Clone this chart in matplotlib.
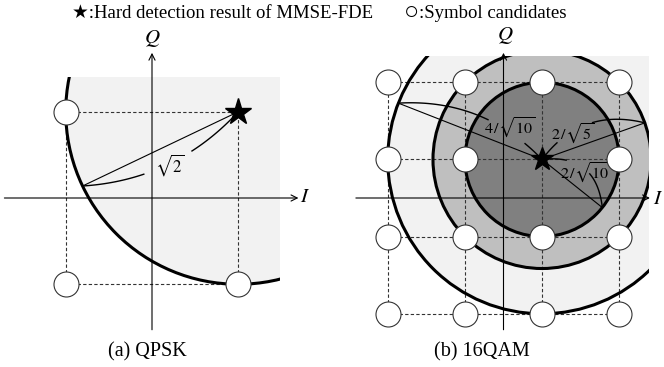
import numpy as np
import matplotlib
matplotlib.use("Agg")
import matplotlib.pyplot as plt
from matplotlib.patches import Circle, Rectangle

# constellation levels (I and Q share them)
qpsk_levels = [-0.707, 0.707]
qam16_levels = [-0.949, -0.316, 0.316, 0.949]

# hard detection result of MMSE-FDE
qpsk_star = (0.707, 0.707)
qam16_star = (0.316, 0.316)

# search radii, label and direction of the radius line (deg)
qpsk_radii = [1.414]
qpsk_radius_labels = [r"$\sqrt{2}$"]
qpsk_radius_angles = [205.5]

qam16_radii = [1.265, 0.894, 0.632]
qam16_radius_labels = [r"$4\,/\sqrt{10}$", r"$2\,/\sqrt{5}$", r"$2\,/\sqrt{10}$"]
qam16_radius_angles = [158.6, 19.6, -38.6]
qam16_fill = ["#f2f2f2", "#bfbfbf", "#808080"]

plt.rcParams["mathtext.fontset"] = "stix"
plt.rcParams["font.family"] = ["Liberation Serif", "DejaVu Sans"]

S = 122.0  # pixels per unit


def setup_axes(ax, ox, oy):
    """map the axes so that (0, 0) sits at pixel (ox, oy) of the panel"""
    ax.set_xlim(-ox / S, (332 - ox) / S)
    ax.set_ylim(-(367 - oy) / S, oy / S)
    ax.axis("off")


def draw_axes_lines(ax, q_label_pos, i_label_pos):
    arrow = dict(arrowstyle="->", lw=0.8, mutation_scale=11, shrinkA=0, shrinkB=0, color="black")
    ax.annotate("", xy=(1.20, 0), xytext=(-1.21, 0), arrowprops=arrow, zorder=3)
    ax.annotate("", xy=(0, 1.19), xytext=(0, -1.08), arrowprops=arrow, zorder=3)
    ax.text(*q_label_pos, r"$Q$", fontsize=15, ha="center", va="center")
    ax.text(*i_label_pos, r"$I$", fontsize=15, ha="center", va="center")


def draw_grid(ax, levels):
    lo, hi = min(levels), max(levels)
    for v in levels:
        ax.plot([lo, hi], [v, v], ls=(0, (3, 2)), lw=0.8, color="#333333", zorder=2)
        ax.plot([v, v], [lo, hi], ls=(0, (3, 2)), lw=0.8, color="#333333", zorder=2)


def draw_disks(ax, star, radii, colors, clip):
    for r, c in zip(radii, colors):
        fill = Circle(star, r, facecolor=c, edgecolor="none", zorder=1)
        ax.add_patch(fill)
        fill.set_clip_path(clip)
        ring = Circle(star, r, fill=False, edgecolor="black", lw=2.2, zorder=4)
        ax.add_patch(ring)
        ring.set_clip_path(clip)


def draw_brace(ax, star, r, angle, bulge, gap):
    """radius line plus a curved length marker with a gap for its label"""
    p0 = np.array(star)
    d = np.array([np.cos(np.radians(angle)), np.sin(np.radians(angle))])
    p2 = p0 + r * d
    ax.plot([p0[0], p2[0]], [p0[1], p2[1]], color="black", lw=0.8, zorder=5)
    normal = np.array([-d[1], d[0]])
    c = (p0 + p2) / 2 + bulge * r * normal
    for t0, t1 in [(0.0, gap[0]), (gap[1], 1.0)]:
        t = np.linspace(t0, t1, 40)[:, None]
        pts = (1 - t) ** 2 * p0 + 2 * t * (1 - t) * c + t ** 2 * p2
        ax.plot(pts[:, 0], pts[:, 1], color="black", lw=1.0, zorder=5)


def candidates(levels, star):
    xx, yy = np.meshgrid(levels, levels)
    pts = [(x, y) for x, y in zip(xx.ravel(), yy.ravel()) if (x, y) != star]
    return [p[0] for p in pts], [p[1] for p in pts]


fig = plt.figure(figsize=(6.64, 3.67), dpi=100)

# (a) QPSK
ax1 = fig.add_axes([0, 0, 0.5, 1])
setup_axes(ax1, 152, 198)
clip1 = Rectangle((-3, -3), 3 + 1.05, 3 + 0.99, transform=ax1.transData)
draw_disks(ax1, qpsk_star, qpsk_radii, ["#f2f2f2"], clip1)
draw_grid(ax1, qpsk_levels)
draw_axes_lines(ax1, (0, 1.31), (1.254, 0))
draw_brace(ax1, qpsk_star, qpsk_radii[0], qpsk_radius_angles[0], 0.2, (0.34, 0.65))
ax1.text(0.148, 0.27, qpsk_radius_labels[0], fontsize=12, ha="center", va="center", zorder=6)
cx, cy = candidates(qpsk_levels, qpsk_star)
ax1.plot(cx, cy, "o", ms=18, mfc="white", mec="#333333", mew=0.8, zorder=6)
ax1.plot(*qpsk_star, marker="*", ms=20, color="black", zorder=7)

# (b) 16QAM
ax2 = fig.add_axes([0.5, 0, 0.5, 1])
setup_axes(ax2, 171.5, 198)
clip2 = Rectangle((-3, -3), 3 + 1.19, 3 + 1.16, transform=ax2.transData)
draw_disks(ax2, qam16_star, qam16_radii, qam16_fill, clip2)
draw_grid(ax2, qam16_levels)
draw_axes_lines(ax2, (0.012, 1.336), (1.266, -0.016))
bulges = [-0.23, 0.33, 0.5]
gaps = [(0.14, 0.42), (0.18, 0.55), (0.25, 0.6)]
label_pos = [(0.053, 0.574), (0.57, 0.525), (0.676, 0.205)]
for r, a, b, g, lab, pos in zip(qam16_radii, qam16_radius_angles, bulges, gaps,
                                qam16_radius_labels, label_pos):
    draw_brace(ax2, qam16_star, r, a, b, g)
    ax2.text(*pos, lab, fontsize=11.5, ha="center", va="center", zorder=6)
cx, cy = candidates(qam16_levels, qam16_star)
ax2.plot(cx, cy, "o", ms=18, mfc="white", mec="#333333", mew=0.8, zorder=6)
ax2.plot(*qam16_star, marker="*", ms=17, color="black", zorder=7)

# legend line and captions
fig.text(72 / 664, 1 - 13 / 367, "★:Hard detection result of MMSE-FDE", fontsize=13.5,
         ha="left", va="center")
fig.text(404 / 664, 1 - 13 / 367, "○", fontsize=18, ha="left", va="center")
fig.text(419 / 664, 1 - 13 / 367, ":Symbol candidates", fontsize=13.5, ha="left", va="center")
fig.text(147.5 / 664, 1 - 352 / 367, "(a) QPSK", fontsize=14.5, ha="center", va="center")
fig.text(481.7 / 664, 1 - 352 / 367, "(b) 16QAM", fontsize=14.5, ha="center", va="center")

fig.savefig("out.png", dpi=100)
